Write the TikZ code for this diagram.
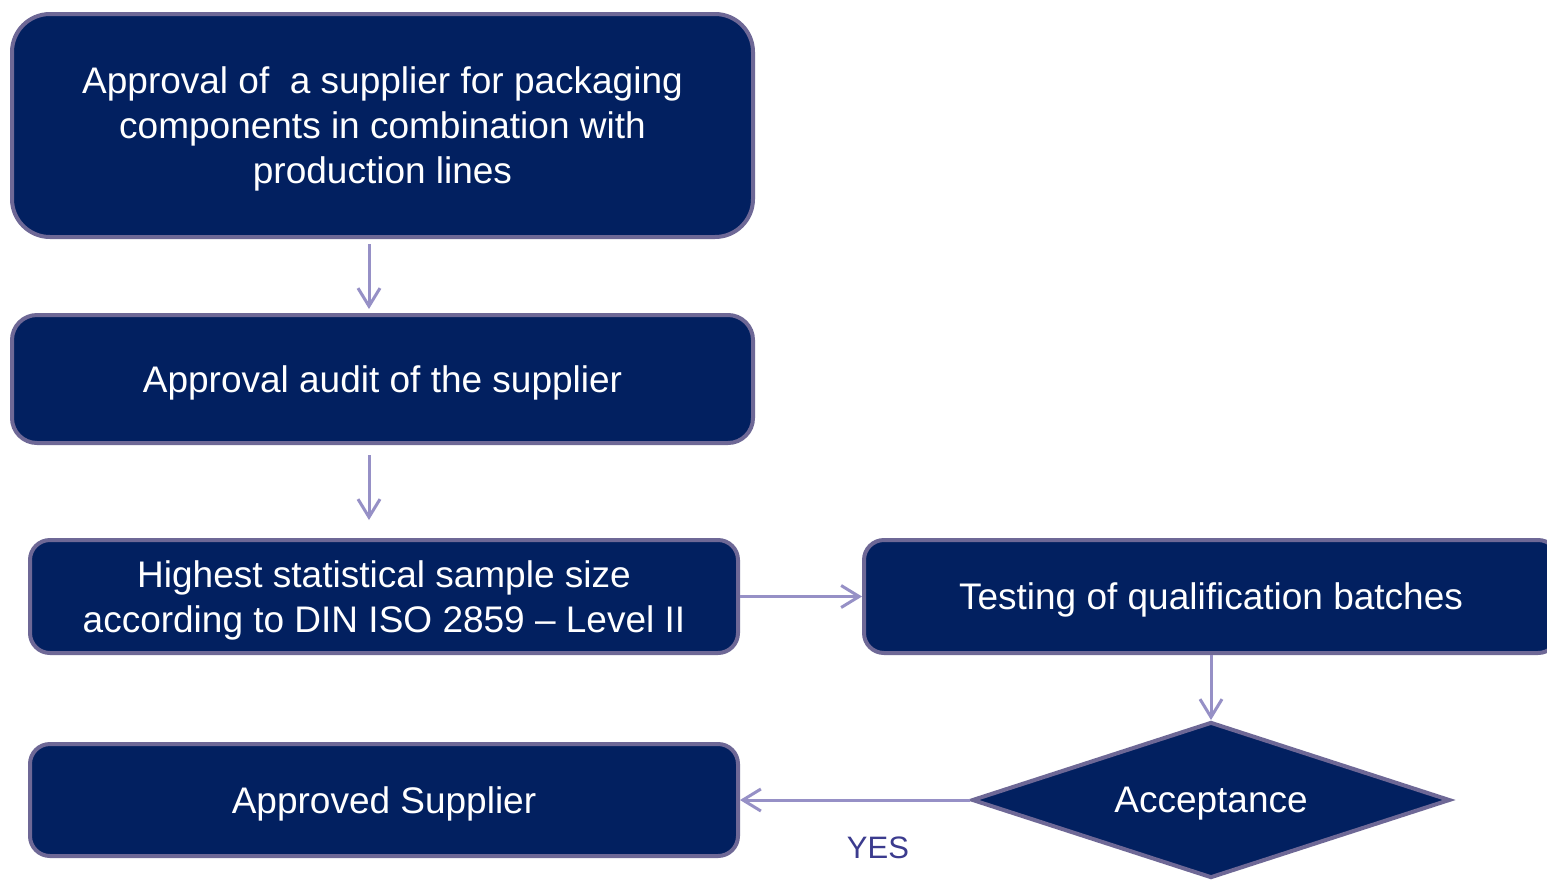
\documentclass[tikz,border=0pt]{standalone}
\usepackage{fontspec}
\setmainfont{Liberation Sans}
\usetikzlibrary{shapes.geometric,arrows.meta}
\definecolor{navy}{RGB}{2,32,96}
\definecolor{rim}{RGB}{110,104,150}
\definecolor{arrowc}{RGB}{150,144,198}
\definecolor{yesc}{RGB}{59,59,142}
\tikzset{
  boxstyle/.style={draw=rim, fill=navy, line width=4pt, text=white, align=center,
    font=\fontsize{37}{45}\selectfont, inner sep=0pt, text depth=-2pt},
  conn/.style={draw=arrowc, line width=3pt, -{Straight Barb[length=18pt,width=22pt,line width=3pt]}},
}
\begin{document}
\begin{tikzpicture}[x=1pt,y=-1pt]
\clip (0,0) rectangle (1547,879);
\fill[white] (0,0) rectangle (1547,879);
\node[boxstyle, rounded corners=38pt, minimum width=741pt, minimum height=223pt] (b1) at (382.5,125.5)
  {Approval of\ \ a supplier for packaging\\components in combination with\\production lines};
\node[boxstyle, rounded corners=25pt, minimum width=741pt, minimum height=128pt] (b2) at (382.5,379)
  {Approval audit of the supplier};
\node[boxstyle, rounded corners=20pt, minimum width=708pt, minimum height=113pt] (b3) at (384,596.5)
  {Highest statistical sample size\\according to DIN ISO 2859 -- Level II};
\node[boxstyle, rounded corners=20pt, minimum width=694pt, minimum height=113pt] (b4) at (1211,596.5)
  {Testing of qualification batches};
\node[boxstyle, rounded corners=20pt, minimum width=708pt, minimum height=112pt] (b5) at (384,800)
  {Approved Supplier};
\node[boxstyle, diamond, aspect=3.01, minimum width=478pt, minimum height=156pt] (acc) at (1211,800)
  {Acceptance};
\coordinate (t1) at (369,244);
\coordinate (h1) at (369,309);
\coordinate (t2) at (369,455);
\coordinate (h2) at (369,520);
\draw[conn] (t1) -- (h1);
\draw[conn] (t2) -- (h2);
\draw[conn] (b3.east) -- (b4.west);
\draw[conn] (b4.south) -- (acc.north);
\draw[conn] (acc.west) -- (b5.east);
\node[text=yesc, font=\fontsize{31}{36}\selectfont, inner sep=0pt] (yes) at (878,848) {YES};
\end{tikzpicture}
\end{document}
